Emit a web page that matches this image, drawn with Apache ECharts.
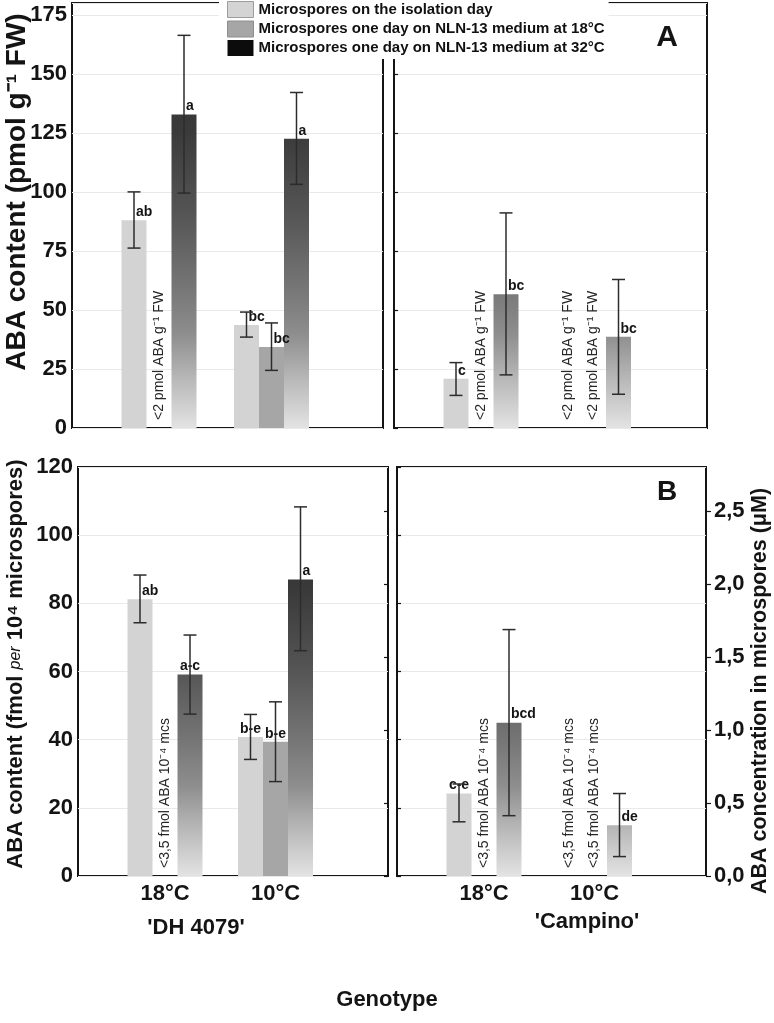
<!DOCTYPE html>
<html>
<head>
<meta charset="utf-8">
<script src="https://cdn.jsdelivr.net/npm/echarts@6/dist/echarts.min.js"></script>
<style>html,body{margin:0;padding:0;background:#fff}#c{width:774px;height:1023px}</style>
</head>
<body>
<div id="c"></div>
<script>
// ---------------- DATA ----------------
const categories = ['18°C', '10°C'];
const seriesNames = [
  'Microspores on the isolation day',
  'Microspores one day on NLN-13 medium at 18°C',
  'Microspores one day on NLN-13 medium at 32°C'
];

// Panel A: ABA content (pmol g-1 FW)
const A_Y_MAX = 180, A_Y_STEP = 25;
const A_LIMIT = '<2 pmol ABA g⁻¹ FW';
// 'DH 4079'
const A_DH_isolation = [88.0, 43.6];
const A_DH_18C = [null, 34.3];
const A_DH_32C = [132.8, 122.5];
const A_DH_isolation_err = [[76.2, 100.0], [38.5, 49.1]];
const A_DH_18C_err = [null, [24.4, 44.5]];
const A_DH_32C_err = [[99.5, 166.3], [103.2, 142.1]];
const A_DH_isolation_letters = ['ab', 'bc'];
const A_DH_18C_letters = [null, 'bc'];
const A_DH_32C_letters = ['a', 'a'];
// 'Campino'
const A_CA_isolation = [20.9, null];
const A_CA_18C = [null, null];
const A_CA_32C = [56.6, 38.6];
const A_CA_isolation_err = [[13.8, 27.7], null];
const A_CA_18C_err = [null, null];
const A_CA_32C_err = [[22.5, 91.1], [14.3, 62.9]];
const A_CA_isolation_letters = ['c', null];
const A_CA_18C_letters = [null, null];
const A_CA_32C_letters = ['bc', 'bc'];

// Panel B: ABA content (fmol per 10^4 microspores)
const B_Y_MAX = 120, B_Y_STEP = 20;
const B_RIGHT_MAX = 2.8;
const B_RIGHT_TICKS = [0, 0.5, 1.0, 1.5, 2.0, 2.5];
const B_LIMIT = '<3,5 fmol ABA 10⁻⁴ mcs';
// 'DH 4079'
const B_DH_isolation = [81.2, 40.8];
const B_DH_18C = [null, 39.4];
const B_DH_32C = [59.1, 87.0];
const B_DH_isolation_err = [[74.3, 88.3], [34.2, 47.4]];
const B_DH_18C_err = [null, [27.7, 51.1]];
const B_DH_32C_err = [[47.5, 70.7], [66.1, 108.3]];
const B_DH_isolation_letters = ['ab', 'b-e'];
const B_DH_18C_letters = [null, 'b-e'];
const B_DH_32C_letters = ['a-c', 'a'];
// 'Campino'
const B_CA_isolation = [24.2, null];
const B_CA_18C = [null, null];
const B_CA_32C = [45.0, 14.9];
const B_CA_isolation_err = [[15.9, 27.0], null];
const B_CA_18C_err = [null, null];
const B_CA_32C_err = [[17.7, 72.3], [5.7, 24.2]];
const B_CA_isolation_letters = ['c-e', null];
const B_CA_18C_letters = [null, null];
const B_CA_32C_letters = ['bcd', 'de'];

// ---------------- LAYOUT / STYLE ----------------
const FONT = '"Liberation Sans", Arial, Helvetica, sans-serif';
const INK = '#141414';
const BAR_W = 25;
const frames = [
  {left: 72, top: 3, width: 311, height: 425},
  {left: 394, top: 3, width: 313, height: 425},
  {left: 78, top: 467, width: 310, height: 409},
  {left: 397, top: 467, width: 309, height: 409}
];
const bands = [112.5, 112.5, 110.5, 110.5];
const FIRST_CENTER = 87;

const panels = [
  {vals: [A_DH_isolation, A_DH_18C, A_DH_32C], errs: [A_DH_isolation_err, A_DH_18C_err, A_DH_32C_err],
   lets: [A_DH_isolation_letters, A_DH_18C_letters, A_DH_32C_letters], max: A_Y_MAX, step: A_Y_STEP, limit: A_LIMIT, leftLabels: true, xLabels: false, showMax: false},
  {vals: [A_CA_isolation, A_CA_18C, A_CA_32C], errs: [A_CA_isolation_err, A_CA_18C_err, A_CA_32C_err],
   lets: [A_CA_isolation_letters, A_CA_18C_letters, A_CA_32C_letters], max: A_Y_MAX, step: A_Y_STEP, limit: A_LIMIT, leftLabels: false, xLabels: false, showMax: false},
  {vals: [B_DH_isolation, B_DH_18C, B_DH_32C], errs: [B_DH_isolation_err, B_DH_18C_err, B_DH_32C_err],
   lets: [B_DH_isolation_letters, B_DH_18C_letters, B_DH_32C_letters], max: B_Y_MAX, step: B_Y_STEP, limit: B_LIMIT, leftLabels: true, xLabels: true, showMax: true},
  {vals: [B_CA_isolation, B_CA_18C, B_CA_32C], errs: [B_CA_isolation_err, B_CA_18C_err, B_CA_32C_err],
   lets: [B_CA_isolation_letters, B_CA_18C_letters, B_CA_32C_letters], max: B_Y_MAX, step: B_Y_STEP, limit: B_LIMIT, leftLabels: false, xLabels: true, showMax: true}
];

function gradFor(fr) {
  // global vertical gradient: dark at the top of the plot, light at the axis
  const stops = [[0, '#e3e3e3'], [0.12, '#b6b6b6'], [0.22, '#8e8e8e'], [0.32, '#787878'],
                 [0.49, '#575757'], [0.7, '#3a3a3a'], [1, '#262626']];
  return new echarts.graphic.LinearGradient(0, fr.top, 0, fr.top + fr.height,
    stops.slice().reverse().map(s => ({offset: 1 - s[0], color: s[1]})), true);
}

function renderErr(params, api) {
  const cat = api.value(0), lo = api.value(1), hi = api.value(2), s = api.value(3);
  const pl = api.coord([cat, lo]);
  const ph = api.coord([cat, hi]);
  const x = pl[0] + (s - 1) * BAR_W;
  const cap = 6.5;
  const st = {stroke: '#2c2c2c', lineWidth: 1.5};
  return {type: 'group', children: [
    {type: 'line', shape: {x1: x, y1: pl[1], x2: x, y2: ph[1]}, style: st},
    {type: 'line', shape: {x1: x - cap, y1: pl[1], x2: x + cap, y2: pl[1]}, style: st},
    {type: 'line', shape: {x1: x - cap, y1: ph[1], x2: x + cap, y2: ph[1]}, style: st}
  ]};
}

const grid = [], xAxis = [], yAxis = [], series = [];
panels.forEach((p, i) => {
  const fr = frames[i];
  const band = bands[i];
  grid.push({left: fr.left, top: fr.top, width: fr.width, height: fr.height, show: true,
             borderColor: INK, borderWidth: 2, backgroundColor: 'transparent', containLabel: false});
  grid.push({left: fr.left + FIRST_CENTER - band / 2, top: fr.top, width: band * 2, height: fr.height, containLabel: false});
  const gF = 2 * i, gB = 2 * i + 1;
  xAxis.push({gridIndex: gF, type: 'value', min: 0, max: 1, show: false});
  xAxis.push({gridIndex: gB, type: 'category', data: categories,
    axisLine: {show: false}, axisTick: {show: false}, splitLine: {show: false},
    axisLabel: p.xLabels ? {show: true, fontSize: 22, fontWeight: 'bold', color: INK, fontFamily: FONT, margin: 7} : {show: false}});
  yAxis.push({gridIndex: gF, type: 'value', min: 0, max: p.max, interval: p.step,
    splitLine: {show: true, lineStyle: {color: '#e9e9e9', width: 1}},
    axisLine: {show: false},
    axisTick: p.leftLabels ? {show: false} : {show: true, inside: true, length: 4, lineStyle: {color: INK, width: 1.2}},
    axisLabel: p.leftLabels ? {show: true, fontSize: 22, fontWeight: 'bold', color: INK, fontFamily: FONT, margin: 5, showMaxLabel: p.showMax} : {show: false}
  });
  const yB = yAxis.length;
  yAxis.push({gridIndex: gB, type: 'value', min: 0, max: p.max, show: false});
  if (i === 2) {
    yAxis.push({gridIndex: gF, type: 'value', position: 'right', min: 0, max: B_RIGHT_MAX,
      splitLine: {show: false}, axisLine: {show: false},
      axisTick: {show: true, inside: true, length: 4, customValues: B_RIGHT_TICKS, lineStyle: {color: INK, width: 1.2}},
      axisLabel: {show: false}});
  }
  if (i === 3) {
    yAxis.push({gridIndex: gF, type: 'value', position: 'right', min: 0, max: B_RIGHT_MAX,
      splitLine: {show: false}, axisLine: {show: false},
      axisTick: {show: true, inside: false, length: 5, customValues: B_RIGHT_TICKS, lineStyle: {color: INK, width: 1.2}},
      axisLabel: {show: true, customValues: B_RIGHT_TICKS, fontSize: 22, fontWeight: 'bold', color: INK, fontFamily: FONT, margin: 8,
                  formatter: v => Number(v).toFixed(1).replace('.', ',')}});
  }
  const colors = ['#d3d3d3', '#a6a6a6', gradFor(fr)];
  const errData = [];
  for (let s = 0; s < 3; s++) {
    const data = p.vals[s].map((v, k) => {
      if (v == null) {
        return {value: 0, label: {show: true, formatter: p.limit, rotate: 90, position: [BAR_W / 2, -8],
          align: 'left', verticalAlign: 'middle', fontSize: 14, fontWeight: 'normal', color: '#262626', fontFamily: FONT}};
      }
      const t = p.lets[s][k];
      const hy = t && t.indexOf('-') >= 0;
      return {value: v, label: {show: !!t, formatter: t || '', position: hy ? [BAR_W / 2, -1] : [BAR_W / 2 + 2, -1],
        align: hy ? 'center' : 'left', verticalAlign: 'bottom', fontSize: 14, fontWeight: 'bold', color: INK, fontFamily: FONT}};
    });
    series.push({type: 'bar', name: seriesNames[s], xAxisIndex: gB, yAxisIndex: yB,
      barWidth: BAR_W, barGap: '0%', itemStyle: {color: colors[s]}, data: data, animation: false, z: 2});
    p.errs[s].forEach((e, k) => { if (e) errData.push([k, e[0], e[1], s]); });
  }
  series.push({type: 'custom', xAxisIndex: gB, yAxisIndex: yB, renderItem: renderErr, data: errData,
    encode: {x: 0, y: [1, 2]}, z: 4, silent: true, animation: false});
});

const chart = echarts.init(document.getElementById('c'), null, {renderer: 'canvas', width: 774, height: 1023});
const txt = (text, x, y, size, extra) => Object.assign({type: 'text', x: x, y: y, z: 20,
  style: {text: text, fontSize: size, fontWeight: 'bold', fontFamily: FONT, fill: INK,
    align: 'center', verticalAlign: 'middle', textAlign: 'center', textVerticalAlign: 'middle'}}, extra || {});

chart.setOption({
  animation: false,
  backgroundColor: '#fff',
  grid: grid, xAxis: xAxis, yAxis: yAxis, series: series,
  legend: {
    left: 219, top: 0, orient: 'vertical', padding: [1, 4, 3, 8], itemWidth: 26, itemHeight: 16, itemGap: 2.5,
    backgroundColor: '#fff', selectedMode: false, icon: 'rect', z: 10,
    textStyle: {fontSize: 15, fontWeight: 'bold', color: '#111', fontFamily: FONT},
    data: [
      {name: seriesNames[0], itemStyle: {color: '#d4d4d4', borderColor: '#9c9c9c', borderWidth: 1}},
      {name: seriesNames[1], itemStyle: {color: '#a6a6a6', borderColor: '#8e8e8e', borderWidth: 1}},
      {name: seriesNames[2], itemStyle: {color: '#0c0c0c'}}
    ]
  },
  graphic: [
    txt('ABA content (pmol g⁻¹ FW)', 17, 192, 28, {rotation: Math.PI / 2}),
    {type: 'text', x: 16, y: 664, rotation: Math.PI / 2, z: 20, style: {
      text: '{b|ABA content (fmol }{i|per}{b| 10⁴ microspores)}',
      align: 'center', verticalAlign: 'middle', textAlign: 'center', textVerticalAlign: 'middle',
      rich: {b: {fontSize: 22, fontWeight: 'bold', fontFamily: FONT, fill: INK, color: INK},
             i: {fontSize: 16, fontStyle: 'italic', fontWeight: 'normal', fontFamily: FONT, fill: INK, color: INK}}}},
    txt('ABA concentration in microspores (μM)', 760, 691, 21.5, {rotation: Math.PI / 2}),
    txt('A', 667, 38, 30),
    txt('B', 667, 492, 28),
    txt("'DH 4079'", 196, 928, 22),
    txt("'Campino'", 587, 922, 22),
    txt('Genotype', 387, 1000, 22)
  ]
});
</script>
</body>
</html>
